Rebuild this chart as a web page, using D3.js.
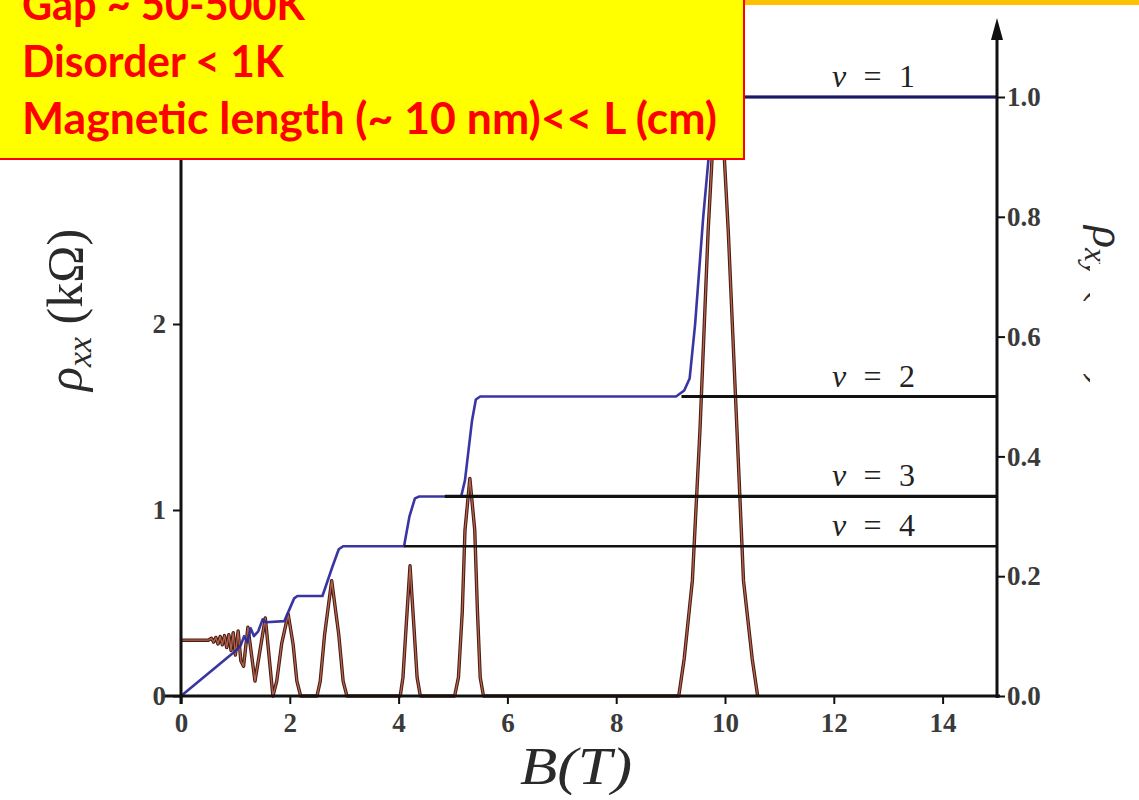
<!DOCTYPE html>
<html>
<head>
<meta charset="utf-8">
<script src="https://cdn.jsdelivr.net/npm/d3@7"></script>
<style>
  html, body { margin: 0; padding: 0; background: #fff; }
  svg { display: block; }
</style>
</head>
<body>
<svg id="chart" width="1139" height="800"></svg>
<script>
// Magnetic field axis ticks (T)
const bTicks = [0, 2, 4, 6, 8, 10, 12, 14];
// Longitudinal resistivity ticks (kΩ)
const rxxTicks = [0, 1, 2];
// Hall resistivity ticks (h/e²)
const rxyTicks = [0, 0.2, 0.4, 0.6, 0.8, 1.0];

// Hall resistivity trace rho_xy(B), in units of h/e²
const hallB   = [0, 1.0, 1.1, 1.16, 1.22, 1.28, 1.34, 1.42, 1.5, 1.56, 1.9, 2.08, 2.14, 2.6, 2.78, 2.9, 2.98,
                 4.1, 4.2, 4.3, 4.38, 5.15, 5.22, 5.35, 5.42, 5.5, 9.1, 9.25, 9.35, 9.45, 9.6, 9.75, 9.85, 15];
const hallRho = [0, 0.075, 0.085, 0.1, 0.09, 0.113, 0.1, 0.108, 0.128, 0.123, 0.125, 0.163, 0.167, 0.167, 0.215, 0.245, 0.25,
                 0.25, 0.3, 0.33, 0.333, 0.333, 0.36, 0.46, 0.495, 0.5, 0.5, 0.51, 0.53, 0.62, 0.8, 0.95, 1.0, 1.0];

// Longitudinal resistivity trace rho_xx(B), in kΩ
const rxxB   = [0, 0.5, 0.56, 0.6, 0.64, 0.68, 0.72, 0.76, 0.8, 0.84, 0.88, 0.92, 0.96, 1.0, 1.05, 1.1, 1.15, 1.23, 1.36, 1.55, 1.69,
                1.69, 1.76, 1.85, 1.97, 2.06, 2.13, 2.2,
                2.5, 2.56, 2.64, 2.77, 2.9, 2.98, 3.05,
                4.03, 4.08, 4.14, 4.21, 4.28, 4.34, 4.4,
                5.03, 5.1, 5.17, 5.22, 5.31, 5.4, 5.45, 5.5, 5.56,
                9.15, 9.25, 9.4, 9.54, 9.69, 9.76, 9.875, 9.99, 10.06, 10.22, 10.34, 10.5, 10.6];
const rxxVal = [0.30, 0.30, 0.31, 0.29, 0.315, 0.28, 0.32, 0.275, 0.325, 0.26, 0.33, 0.245, 0.34, 0.22, 0.35, 0.19, 0.16, 0.37, 0.08, 0.42, 0.0,
                0.0, 0.08, 0.28, 0.44, 0.28, 0.08, 0.0,
                0.0, 0.08, 0.33, 0.62, 0.33, 0.08, 0.0,
                0.0, 0.1, 0.38, 0.70, 0.38, 0.1, 0.0,
                0.0, 0.1, 0.45, 0.89, 1.17, 0.89, 0.45, 0.1, 0.0,
                0.0, 0.2, 0.62, 1.43, 2.5, 2.88, 3.5, 2.88, 2.5, 1.43, 0.62, 0.2, 0.0];

// Quantum Hall plateaus: filling factor and field where the reference line starts
const nuValues = [1, 2, 3, 4];
const nuStartB = [9.85, 9.2, 4.85, 4.1];

// Notes in the callout box
const noteLines = ["Gap ~ 50-500K", "Disorder < 1K", "Magnetic length (~ 10 nm)<< L (cm)"];

const svg = d3.select("#chart");

const x  = d3.scaleLinear().domain([0, 15]).range([181, 997]);
const yL = d3.scaleLinear().domain([0, 2]).range([696, 324]);
const yR = d3.scaleLinear().domain([0, 1]).range([696, 97]);

const serif = "'Liberation Serif', 'DejaVu Serif', serif";

// rho_xx curve: dark outline with a lighter brown core
const rxxPts = rxxB.map((b, i) => [b, rxxVal[i]]);
const rxxLine = d3.line().x(d => x(d[0])).y(d => yL(d[1]));
svg.append("path").attr("d", rxxLine(rxxPts))
  .attr("fill", "none").attr("stroke", "#4a1c14").attr("stroke-width", 3.4)
  .attr("stroke-linejoin", "round");
svg.append("path").attr("d", rxxLine(rxxPts))
  .attr("fill", "none").attr("stroke", "#b2654e").attr("stroke-width", 1.3)
  .attr("stroke-linejoin", "round");

// rho_xy Hall trace
const hallPts = hallB.map((b, i) => [b, hallRho[i]]);
const hallLine = d3.line().x(d => x(d[0])).y(d => yR(d[1]));
svg.append("path").attr("d", hallLine(hallPts))
  .attr("fill", "none").attr("stroke", "#2e2a9c").attr("stroke-width", 2.6)
  .attr("stroke-linejoin", "round").attr("opacity", 0.95);

// Plateau reference lines at rho_xy = 1/nu
nuValues.forEach((nu, i) => {
  svg.append("line")
    .attr("x1", x(nuStartB[i])).attr("x2", x(15))
    .attr("y1", yR(1 / nu)).attr("y2", yR(1 / nu))
    .attr("stroke", nu === 1 ? "#1c1a5e" : "#111")
    .attr("stroke-width", nu === 4 ? 2.5 : 3.2);
  const t = svg.append("text")
    .attr("x", 832).attr("y", yR(1 / nu) - 10)
    .attr("font-family", serif).attr("font-size", 32).attr("fill", "#222")
    .attr("textLength", 83).attr("lengthAdjust", "spacing");
  t.append("tspan").attr("font-style", "italic").text("ν");
  t.append("tspan").text(" = " + nu);
});

// Bottom axis
const gx = svg.append("g").attr("transform", "translate(0,696)")
  .call(d3.axisBottom(x).tickValues(bTicks).tickSize(8).tickPadding(9).tickFormat(d3.format("d")));
gx.select(".domain").remove();
svg.append("line").attr("x1", 163).attr("x2", 1000).attr("y1", 696).attr("y2", 696)
  .attr("stroke", "#111").attr("stroke-width", 3);

// Left axis
const gl = svg.append("g").attr("transform", "translate(181,0)")
  .call(d3.axisLeft(yL).tickValues(rxxTicks).tickSize(8).tickPadding(7).tickFormat(d3.format("d")));
gl.select(".domain").remove();
svg.append("line").attr("x1", 181).attr("x2", 181).attr("y1", 704).attr("y2", 110)
  .attr("stroke", "#111").attr("stroke-width", 3);

// Right axis with arrow
const gr = svg.append("g").attr("transform", "translate(997,0)")
  .call(d3.axisRight(yR).tickValues(rxyTicks).tickSize(8).tickPadding(2).tickFormat(d3.format(".1f")));
gr.select(".domain").remove();
svg.append("line").attr("x1", 997).attr("x2", 997).attr("y1", 698).attr("y2", 36)
  .attr("stroke", "#111").attr("stroke-width", 3);
svg.append("path").attr("d", "M997,18 L991,40 L1003,40 Z").attr("fill", "#111");

[gx, gl, gr].forEach(g => {
  g.selectAll(".tick line").attr("stroke", "#111").attr("stroke-width", 2);
  g.selectAll(".tick text")
    .style("font-family", serif).style("font-size", "27px")
    .style("font-weight", "bold").attr("fill", "#3a3a3a");
});

// Axis titles
svg.append("text").attr("x", 576).attr("y", 784).attr("text-anchor", "middle")
  .attr("font-family", serif).attr("font-style", "italic").attr("font-size", 52).attr("fill", "#2a2a2a")
  .attr("textLength", 112).attr("lengthAdjust", "spacingAndGlyphs")
  .text("B(T)");

const tl = svg.append("text").attr("transform", "translate(82,310) rotate(-90)")
  .attr("text-anchor", "middle").attr("font-family", serif).attr("font-size", 50).attr("fill", "#2a2a2a");
tl.append("tspan").attr("font-style", "italic").text("ρ");
tl.append("tspan").attr("font-style", "italic").attr("font-size", 34).attr("dy", 9).text("xx");
tl.append("tspan").attr("dy", -9).text(" (kΩ)");

const tr = svg.append("text").attr("transform", "translate(1093,226) rotate(90)")
  .attr("font-family", serif).attr("font-size", 46).attr("fill", "#2a2a2a");
tr.append("tspan").attr("font-style", "italic").text("ρ");
tr.append("tspan").attr("font-style", "italic").attr("font-size", 31).attr("dy", 8).text("xy");
tr.append("tspan").attr("dy", -8).text(" (h/e²)");
// panel edge covering the end of the right-hand title
svg.append("rect").attr("x", 1090).attr("y", 264).attr("width", 49).attr("height", 536).attr("fill", "#fff");

// Slide header band and callout box
svg.append("rect").attr("x", 744).attr("y", 0).attr("width", 395).attr("height", 5).attr("fill", "#ffc000");
svg.append("rect").attr("x", -2).attr("y", -2).attr("width", 746).attr("height", 161)
  .attr("fill", "#ffff00").attr("stroke", "#ff0000").attr("stroke-width", 2);

const noteWidths = [283, 262, 695];
const noteBase = [20, 77, 134];
noteLines.forEach((s, i) => {
  svg.append("text").attr("x", 22).attr("y", noteBase[i])
    .attr("font-family", "Lato, 'Open Sans', sans-serif").attr("font-weight", "bold")
    .attr("font-size", 44).attr("fill", "#ff0000")
    .attr("textLength", noteWidths[i]).attr("lengthAdjust", "spacingAndGlyphs")
    .text(s);
});
</script>
</body>
</html>
